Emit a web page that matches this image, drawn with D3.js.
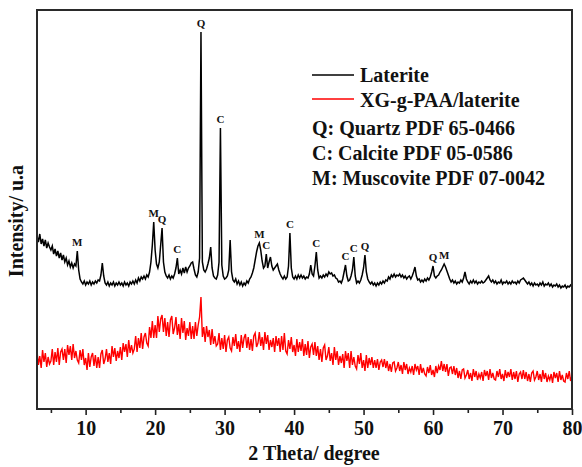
<!DOCTYPE html>
<html>
<head>
<meta charset="utf-8">
<script src="https://cdn.jsdelivr.net/npm/d3@7"></script>
<style>
    body { margin: 0; background: #fff; }
    text { font-family: "Times New Roman", "Liberation Serif", serif; }
</style>
</head>
<body>
<div id="xrd"></div>
<script>
// 2 theta grid: 3 .. 80 deg, step 0.2
const thetaStart = 3;
const thetaStep = 0.2;

// Laterite, one row = 2 deg
const laterite = [
    173, 167, 175, 165, 170, 163, 169, 161, 166, 162,
    159, 163, 155, 160, 153, 158, 151, 156, 149, 154,
    147, 151, 144, 148, 142, 146, 141, 145, 143, 158,
    139, 130, 127, 125, 128, 124, 127, 125, 128, 124,
    127, 125, 128, 126, 129, 128, 134, 146, 133, 126,
    124, 127, 123, 126, 124, 127, 123, 126, 124, 127,
    124, 126, 123, 127, 124, 126, 123, 127, 125, 128,
    125, 129, 126, 131, 128, 132, 130, 133, 130, 134,
    132, 137, 147, 164, 187, 159, 145, 141, 147, 164,
    181, 147, 137, 133, 131, 134, 130, 133, 131, 135,
    141, 151, 135, 139, 135, 141, 136, 142, 137, 141,
    143, 146, 147, 140, 134, 132, 137, 151, 377, 147,
    139, 137, 140, 145, 151, 162, 141, 133, 131, 130,
    134, 147, 281, 144, 133, 130, 131, 133, 139, 169,
    137, 129, 127, 130, 125, 128, 124, 127, 123, 126,
    124, 128, 126, 130, 132, 136, 141, 149, 157, 163,
    166, 159, 148, 141, 143, 155, 141, 147, 152, 143,
    139, 141, 143, 145, 139, 135, 132, 130, 133, 130,
    132, 143, 176, 141, 132, 130, 133, 130, 134, 131,
    134, 131, 133, 130, 132, 131, 135, 144, 135, 133,
    143, 157, 139, 131, 133, 131, 134, 132, 135, 133,
    137, 135, 136, 133, 134, 131, 130, 127, 128, 126,
    130, 137, 144, 133, 128, 129, 133, 139, 152, 133,
    126, 128, 126, 129, 134, 141, 154, 137, 130, 127,
    125, 127, 124, 126, 123, 126, 124, 127, 125, 128,
    126, 129, 128, 132, 130, 134, 132, 135, 132, 134,
    133, 135, 132, 134, 131, 133, 130, 132, 133, 130,
    133, 137, 142, 133, 129, 130, 127, 129, 127, 130,
    128, 131, 129, 132, 137, 143, 133, 131, 133, 134,
    137, 139, 142, 145, 142, 138, 134, 130, 127, 129,
    126, 128, 125, 127, 126, 129, 127, 131, 137, 130,
    127, 125, 128, 126, 129, 126, 128, 125, 127, 126,
    128, 126, 127, 129, 131, 133, 129, 127, 129, 126,
    128, 125, 127, 126, 129, 125, 127, 126, 128, 125,
    127, 125, 128, 126, 127, 125, 128, 126, 129, 130,
    131, 129, 127, 125, 127, 124, 126, 123, 126, 124,
    125, 123, 126, 124, 127, 123, 125, 124, 126, 123,
    125, 122, 124, 123, 125, 122, 124, 121, 123, 122,
    124, 121, 123, 122, 124, 122
];

// XG-g-PAA/laterite
const xgLaterite = [
    58, 44, 53, 41, 59, 47, 56, 42, 52, 45,
    48, 60, 44, 57, 47, 61, 44, 57, 60, 49,
    60, 46, 64, 54, 63, 49, 65, 51, 58, 49,
    46, 59, 49, 60, 44, 51, 39, 56, 42, 52,
    56, 43, 54, 41, 52, 41, 55, 59, 45, 50,
    60, 47, 56, 45, 63, 52, 61, 48, 58, 51,
    62, 49, 66, 57, 65, 52, 69, 56, 64, 56,
    60, 73, 57, 71, 61, 76, 60, 72, 76, 66,
    63, 82, 71, 88, 71, 84, 71, 93, 77, 90,
    94, 77, 91, 73, 87, 72, 89, 93, 75, 81,
    92, 74, 85, 70, 91, 76, 88, 69, 81, 73,
    87, 70, 83, 70, 87, 73, 84, 92, 112, 72,
    82, 67, 83, 72, 79, 64, 80, 65, 73, 63,
    65, 76, 59, 71, 60, 74, 57, 69, 72, 61,
    58, 72, 63, 75, 60, 68, 57, 74, 61, 71,
    75, 61, 72, 59, 70, 58, 73, 76, 62, 66,
    77, 63, 72, 59, 77, 65, 74, 59, 69, 62,
    71, 57, 73, 63, 71, 57, 73, 59, 76, 58,
    55, 69, 60, 72, 57, 64, 53, 70, 57, 67,
    58, 70, 53, 65, 54, 68, 51, 62, 65, 54,
    67, 53, 63, 49, 60, 47, 61, 64, 49, 53,
    62, 48, 56, 44, 62, 49, 58, 44, 53, 46,
    55, 41, 58, 48, 56, 41, 58, 44, 52, 43,
    40, 54, 45, 56, 41, 49, 38, 54, 41, 51,
    44, 52, 41, 49, 41, 50, 39, 47, 49, 42,
    50, 41, 48, 38, 45, 37, 46, 47, 38, 41,
    47, 38, 44, 35, 47, 39, 45, 35, 41, 37,
    43, 34, 45, 39, 43, 34, 45, 36, 41, 35,
    33, 42, 36, 44, 34, 39, 32, 43, 36, 43,
    39, 48, 38, 45, 37, 45, 33, 41, 42, 35,
    43, 34, 41, 31, 38, 30, 39, 40, 31, 34,
    39, 30, 36, 28, 40, 32, 38, 29, 35, 31,
    37, 28, 39, 33, 38, 29, 40, 31, 36, 30,
    29, 38, 32, 40, 30, 35, 28, 39, 31, 37,
    32, 40, 29, 37, 30, 38, 27, 35, 37, 30,
    39, 30, 37, 28, 35, 27, 36, 38, 29, 32,
    38, 29, 35, 27, 39, 30, 36, 27, 33, 29,
    35, 26, 37, 31, 36, 27, 38, 29, 34, 28,
    27, 36, 30, 38, 28, 33
];

// phase marks on the laterite pattern
const peakLetters = ["M", "M", "Q", "C", "Q", "C", "M", "C", "C", "C", "C", "C", "Q", "Q", "M"];
const peakTheta = [8.8, 19.8, 21.0, 23.2, 26.6, 29.4, 35.0, 36.0, 39.4, 43.2, 47.4, 48.6, 50.2, 60.0, 61.6];

const xTicks = [10, 20, 30, 40, 50, 60, 70, 80];
const xMinorTicks = [5, 15, 25, 35, 45, 55, 65, 75];

const seriesNames = ["Laterite", "XG-g-PAA/laterite"];
const seriesColors = ["#000000", "#ff0000"];
const phaseNotes = ["Q: Quartz PDF 65-0466", "C: Calcite PDF 05-0586", "M: Muscovite PDF 07-0042"];

class Xrd {
    constructor(option) {
        for (let [key, value] of Object.entries(option)) {
            this[key] = value;
        }
        this.left = 37;
        this.top = 10;
        this.right = 572;
        this.bottom = 409;
        this.theta = this.series[0].map((d, i) => thetaStart + i * thetaStep);
        this.creatSvg();
        this.creatScale();
        this.creatLines();
        this.creatAxis();
        this.creatPeaks();
        this.creatLegend();
    }
    creatSvg() {
        this.svg = d3.select(this.ele)
            .append('svg')
            .attr("width", this.width)
            .attr("height", this.height);
    }
    creatScale() {
        this.x = d3.scaleLinear().domain([3, 80]).range([this.left, this.right]);
        this.y = d3.scaleLinear().domain([0, 400]).range([this.bottom, this.top - 1]);
    }
    creatLines() {
        let _this = this;
        let line = d3.line()
            .x(function(d, i) { return _this.x(_this.theta[i]); })
            .y(function(d) { return _this.y(d); });
        // red first, black on top
        for (let k = this.series.length - 1; k >= 0; k--) {
            this.svg.append("path")
                .datum(this.series[k])
                .attr("d", line)
                .attr("fill", "none")
                .attr("stroke", seriesColors[k])
                .attr("stroke-width", k == 0 ? 1.5 : 1.4)
                .attr("stroke-linejoin", "miter");
        }
    }
    creatAxis() {
        let major = this.svg.append("g")
            .attr("transform", `translate(0,${this.bottom})`)
            .call(d3.axisBottom(this.x).tickValues(xTicks).tickSize(6).tickPadding(6));
        major.select(".domain").remove();
        major.selectAll("line").attr("stroke", "#222").attr("stroke-width", 1.6);
        major.selectAll("text")
            .attr("font-size", 20)
            .attr("font-weight", "bold")
            .attr("fill", "#111");

        let minor = this.svg.append("g")
            .attr("transform", `translate(0,${this.bottom})`)
            .call(d3.axisBottom(this.x).tickValues(xMinorTicks).tickSize(4).tickFormat(""));
        minor.select(".domain").remove();
        minor.selectAll("line").attr("stroke", "#222").attr("stroke-width", 1.6);

        // frame
        this.svg.append("rect")
            .attr("x", this.left)
            .attr("y", this.top)
            .attr("width", this.right - this.left)
            .attr("height", this.bottom - this.top)
            .attr("fill", "none")
            .attr("stroke", "#2a2a2a")
            .attr("stroke-width", 2);

        this.svg.append("text")
            .attr("x", 314)
            .attr("y", 460)
            .attr("text-anchor", "middle")
            .attr("font-size", 20)
            .attr("font-weight", "bold")
            .attr("fill", "#111")
            .text("2 Theta/ degree");

        this.svg.append("text")
            .attr("transform", "translate(23,221) rotate(-90)")
            .attr("text-anchor", "middle")
            .attr("font-size", 20)
            .attr("font-weight", "bold")
            .attr("fill", "#111")
            .text("Intensity/ u.a");
    }
    creatPeaks() {
        let _this = this;
        let base = this.series[0];
        this.svg.append("g")
            .selectAll("text")
            .data(peakLetters)
            .enter()
            .append("text")
            .attr("x", function(d, i) { return _this.x(peakTheta[i]); })
            .attr("y", function(d, i) {
                let idx = Math.round((peakTheta[i] - thetaStart) / thetaStep);
                return _this.y(base[idx]) - 5;
            })
            .attr("text-anchor", "middle")
            .attr("font-size", 11)
            .attr("font-weight", "bold")
            .attr("fill", "#111")
            .text(function(d) { return d; });
    }
    creatLegend() {
        let g = this.svg.append("g");
        let lineY = [75, 99];
        let textY = [82, 107];
        seriesNames.forEach(function(name, i) {
            g.append("line")
                .attr("x1", 312).attr("x2", 354)
                .attr("y1", lineY[i]).attr("y2", lineY[i])
                .attr("stroke", seriesColors[i])
                .attr("stroke-width", 1.5);
            g.append("text")
                .attr("x", 360).attr("y", textY[i])
                .attr("font-size", 20)
                .attr("font-weight", "bold")
                .attr("fill", "#111")
                .text(name);
        });
        phaseNotes.forEach(function(note, i) {
            g.append("text")
                .attr("x", 312).attr("y", 135 + i * 25)
                .attr("font-size", 20)
                .attr("font-weight", "bold")
                .attr("fill", "#111")
                .text(note);
        });
    }
}

let chart = new Xrd({
    ele: document.getElementById('xrd'),
    width: 582,
    height: 467,
    series: [laterite, xgLaterite]
});
</script>
</body>
</html>
